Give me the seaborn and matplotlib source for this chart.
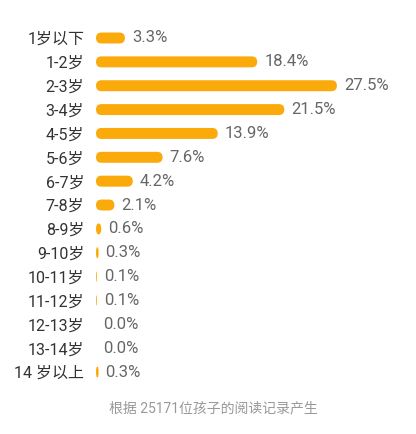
import numpy as np
import pandas as pd
import seaborn as sns
import matplotlib
matplotlib.use('Agg')
import matplotlib.pyplot as plt
from matplotlib.patches import FancyBboxPatch

# data
ages = ['1岁以下', '1-2岁', '2-3岁', '3-4岁', '4-5岁', '5-6岁', '6-7岁', '7-8岁',
        '8-9岁', '9-10岁', '10-11岁', '11-12岁', '12-13岁', '13-14岁', '14 岁以上']
shares = [3.3, 18.4, 27.5, 21.5, 13.9, 7.6, 4.2, 2.1, 0.6, 0.3, 0.1, 0.1, 0.0, 0.0, 0.3]
footer = '根据 25171位孩子的阅读记录产生'

df = pd.DataFrame({'age': ages, 'share': shares})

sns.set_theme(style='white')
plt.rcParams['font.family'] = ['Roboto', 'Noto Sans CJK SC', 'DejaVu Sans']

W, H = 416, 434
fig = plt.figure(figsize=(W / 100, H / 100), dpi=100)
row = 23.86
top_px = 38 - row / 2
ax = fig.add_axes([96 / W, 1 - (top_px + 15 * row) / H, 320 / W, 15 * row / H])

bar_color = '#FBAA0C'
sns.barplot(data=df, x='share', y='age', color=bar_color, width=0.46,
            saturation=1, ax=ax, orient='h')

px_per_x = 8.76
ax.set_xlim(0, 320 / px_per_x)
ax.set_ylim(14.5, -0.5)

# swap plain bars for capsule shapes
for p in list(ax.patches):
    x0, y0 = p.get_x(), p.get_y()
    w, h = p.get_width(), p.get_height()
    p.set_visible(False)
    if w <= 0:
        continue
    r = min(h / 2 * row / px_per_x, w / 2)
    fb = FancyBboxPatch((x0, y0), w, h,
                        boxstyle=f'round,pad=0,rounding_size={r}',
                        mutation_aspect=(h / 2) / r,
                        facecolor=bar_color, edgecolor='none')
    ax.add_patch(fb)

ax.bar_label(ax.containers[0], labels=[f'{v:.1f}%' for v in shares],
             padding=5, color='#666666', fontsize=12)

ax.set_xlabel('')
ax.set_ylabel('')
ax.set_xticks([])
ax.tick_params(axis='y', length=0, pad=8.5, labelsize=11.5, labelcolor='#333333')
for s in ax.spines.values():
    s.set_visible(False)

fig.text(213 / W, 1 - 408 / H, footer, ha='center', va='center',
         fontsize=10, color='#999999')

fig.savefig('out.png', dpi=100, facecolor='white')
